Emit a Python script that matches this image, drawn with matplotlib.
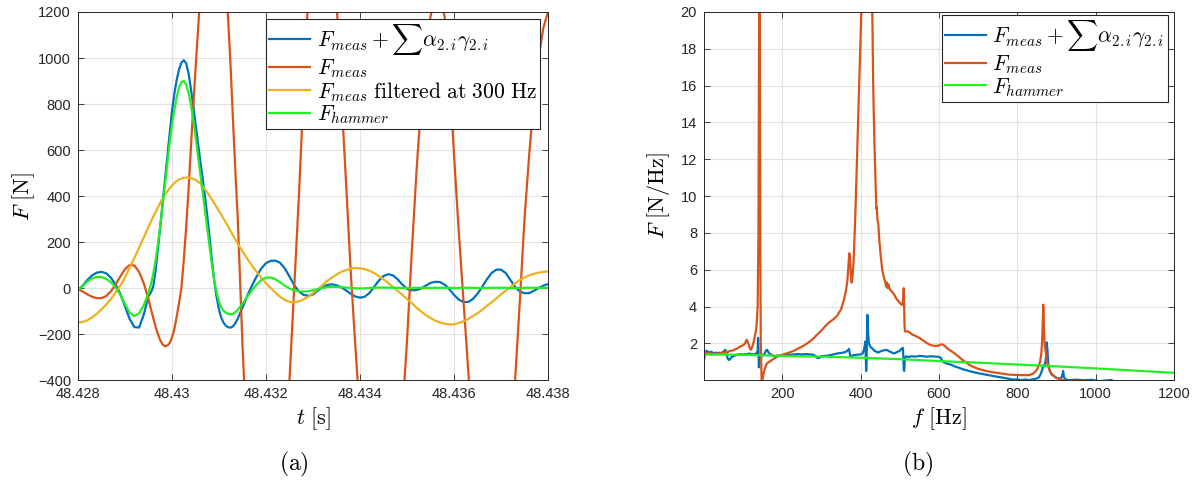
import numpy as np
import matplotlib
matplotlib.use('Agg')
import matplotlib.pyplot as plt

plt.rcParams['mathtext.fontset'] = 'cm'
plt.rcParams['font.family'] = ['Liberation Sans', 'DejaVu Sans']

# ---- (a) time signals: 0.1 ms steps, 0.05 ms around the impact ----
t_ms = np.round(np.r_[np.linspace(0, 1.4, 15), np.linspace(1.5, 3.4, 39), np.linspace(3.5, 10, 66)], 3)
t = 48.428 + t_ms * 1e-3

f_corr = [-10, 10, 35, 55, 67, 70, 64, 45, 15, -25, -80, -135, -170, -172, -115,
          # 1.5 .. 3.4 ms
          -35, -20, 5, 75, 170, 265, 370, 470, 570, 670,
          770, 845, 905, 950, 980, 990, 978, 935, 870, 795,
          715, 635, 555, 480, 400, 315, 220, 120, 30, -40,
          -95, -130, -152, -165, -171, -172, -166, -152, -133,
          # 3.5 .. 10 ms
          -85, -35, 10, 50, 85, 108, 118, 119, 110, 85,
          50, 12, -15, -30, -34, -28, -12, 3, 13, 16,
          12, 3, -10, -25, -37, -42, -38, -22, 5, 32,
          52, 60, 55, 38, 15, -3, -10, -9, -2, 10,
          22, 27, 26, 15, -5, -30, -50, -61, -61, -48,
          -25, 5, 38, 65, 80, 80, 65, 35, 5, -15,
          -23, -22, -12, 0, 10, 17]

f_meas = [-5, -15, -28, -38, -44, -44, -35, -15, 15, 50, 82, 100, 98, 70, 20,
          -50, -90, -130, -168, -200, -228, -245, -253, -250, -240,
          -215, -178, -125, -65, 0, 120, 260, 420, 600, 780,
          950, 1110, 1270, 1400, 1520, 1610, 1680, 1720, 1730, 1700,
          1650, 1560, 1450, 1310, 1150, 950, 720, 500, 300,
          -250, -700, -1000, -1300, -1500, -1600, -1580, -1430, -1180, -850,
          -400, 0, 400, 850, 1280, 1600, 1800, 1850, 1750, 1550,
          1250, 850, 470, 80, -250, -560, -850, -1100, -1300, -1420,
          -1450, -1380, -1150, -850, -550, -230, 150, 500, 800, 1030,
          1180, 1270, 1280, 1180, 950, 580, 250, -50, -350, -650,
          -900, -1100, -1220, -1250, -1200, -1050, -850, -620, -400, -60,
          300, 580, 820, 1000, 1130, 1200]

f_filt = [-150, -148, -140, -128, -112, -93, -72, -48, -20, 10, 45, 90, 130, 175, 220,
          265, 288, 310, 330, 350, 370, 390, 405, 420, 433,
          445, 456, 465, 471, 476, 479, 480, 480, 478, 475,
          470, 463, 455, 443, 430, 416, 400, 384, 368, 352,
          335, 318, 300, 283, 265, 246, 228, 210, 192,
          160, 128, 98, 70, 44, 20, 0, -20, -38, -52,
          -60, -62, -58, -50, -38, -22, -6, 12, 30, 45,
          58, 70, 78, 84, 87, 86, 82, 75, 65, 52,
          38, 22, 5, -12, -30, -48, -65, -85, -102, -118,
          -130, -142, -150, -155, -158, -158, -152, -145, -135, -122,
          -110, -95, -78, -62, -45, -28, -12, 4, 20, 35,
          45, 55, 62, 67, 70, 72]

f_hammer = [-10, 8, 28, 42, 48, 48, 40, 25, 2, -30, -70, -108, -122, -110, -75,
            -20, 15, 60, 120, 190, 270, 360, 450, 540, 630,
            710, 775, 830, 872, 895, 900, 885, 850, 800, 735,
            660, 580, 500, 420, 340, 260, 180, 100, 30, -20,
            -60, -85, -100, -108, -113, -114, -112, -105, -95,
            -68, -38, -10, 15, 35, 45, 46, 38, 25, 10,
            -2, -10, -14, -15, -14, -10, -5, 0, 4, 5,
            5, 4, 2, 0, -1, -2, -1, 0, 1, 2,
            2, 2, 1, 1, 0, 0, 1, 1, 1, 0,
            0, 1, 1, 1, 1, 0, 0, 1, 1, 1,
            0, 0, 0, 1, 1, 1, 1, 0, 0, 0,
            1, 1, 1, 1, 1, 1]

# ---- (b) spectra ----
fr_meas = [0, 5, 10, 15, 20, 25, 30, 35, 40, 45, 50, 55, 60, 65, 70, 75, 80, 85, 90, 95,
           100, 105, 109, 113, 116, 119, 123, 127, 131, 134, 137, 139, 140, 141, 142, 143, 144, 145, 147, 149,
           152, 155, 160, 170, 186, 200, 210, 220, 230, 240, 250, 260, 270, 280, 290, 300, 310, 320, 330, 340,
           350, 357, 362, 366, 369, 371, 373, 375, 377, 379, 382, 386, 391, 396, 401, 405, 410, 415, 420, 425,
           428, 430, 432, 435, 437, 439, 440, 441, 443, 445, 448, 451, 455, 459, 462, 465, 467, 469, 471, 473,
           476, 480, 484, 488, 492, 496, 500, 504, 507, 509, 510, 511, 512, 513, 516, 520, 525, 530, 540, 550,
           560, 570, 580, 590, 600, 605, 610, 615, 620, 630, 640, 650, 660, 670, 680, 690, 700, 720, 740, 760,
           780, 800, 820, 830, 840, 845, 850, 855, 858, 861, 863, 865, 866, 867, 868, 870, 872, 875, 878, 882,
           886, 890, 895, 900, 905, 910, 915, 920]
amp_meas = [1.35, 1.50, 1.42, 1.48, 1.38, 1.45, 1.40, 1.47, 1.42, 1.50, 1.48, 1.55, 1.52, 1.58, 1.60, 1.62, 1.68, 1.72, 1.80, 1.85,
            1.90, 2.00, 2.20, 2.00, 1.80, 1.65, 1.80, 2.10, 2.50, 2.90, 4.00, 8.0, 15.0, 22.0, 22.0, 14.0, 6.0, 2.0, 0.05, 0.02,
            0.35, 0.60, 0.90, 1.05, 1.27, 1.38, 1.45, 1.52, 1.60, 1.72, 1.82, 1.95, 2.10, 2.28, 2.50, 2.70, 2.95, 3.15, 3.30, 3.50,
            3.85, 4.35, 4.80, 5.40, 6.30, 6.90, 6.50, 5.70, 5.30, 5.60, 6.50, 8.70, 12.3, 15.9, 19.5, 25.0, 35.0, 45.0, 40.0, 30.0,
            22.0, 19.5, 16.0, 13.0, 11.5, 10.1, 9.3, 9.4, 8.7, 8.5, 7.5, 6.8, 6.0, 5.6, 5.4, 5.1, 5.3, 5.0, 5.2, 5.0,
            4.9, 4.8, 4.7, 4.55, 4.4, 4.3, 4.2, 4.1, 4.1, 4.6, 5.0, 4.0, 3.0, 2.65, 2.65, 2.65, 2.6, 2.5, 2.4, 2.3,
            2.15, 2.0, 1.9, 1.86, 1.88, 1.95, 1.93, 1.85, 1.75, 1.6, 1.45, 1.28, 1.1, 0.95, 0.8, 0.7, 0.62, 0.5, 0.42, 0.36,
            0.30, 0.28, 0.27, 0.28, 0.35, 0.45, 0.58, 0.80, 1.0, 1.4, 2.0, 3.2, 4.1, 3.8, 2.8, 1.9, 1.6, 1.1, 0.8, 0.55,
            0.40, 0.30, 0.20, 0.12, 0.08, 0.05, 0.02, 0.0]

fr_corr = [0, 3, 6, 10, 14, 18, 22, 26, 30, 34, 38, 42, 46, 50, 54, 57, 60, 63, 66, 70,
           75, 80, 85, 90, 95, 100, 105, 110, 115, 120, 125, 130, 134, 137, 138, 139, 140, 141, 143, 146,
           150, 155, 158, 161, 165, 170, 175, 180, 190, 200, 210, 220, 230, 240, 250, 260, 270, 280, 285, 290,
           295, 300, 310, 320, 330, 340, 350, 360, 365, 368, 370, 372, 374, 377, 380, 390, 400, 405, 409, 412,
           414, 415, 417, 419, 421, 425, 430, 435, 440, 445, 449, 455, 460, 466, 470, 475, 480, 485, 490, 495,
           500, 505, 508, 510, 511, 513, 516, 520, 530, 540, 550, 560, 570, 580, 590, 600, 605, 610, 620, 630,
           640, 650, 660, 680, 700, 720, 740, 760, 780, 790, 800, 810, 820, 830, 840, 850, 855, 860, 864, 866,
           870, 873, 875, 877, 879, 883, 888, 895, 900, 905, 910, 914, 917, 919, 925, 935, 950, 970, 990, 1010,
           1040, 1050]
amp_corr = [1.10, 1.50, 1.60, 1.55, 1.50, 1.55, 1.50, 1.45, 1.50, 1.45, 1.50, 1.45, 1.50, 1.55, 1.65, 1.55, 1.20, 1.10, 1.12, 1.25,
            1.30, 1.35, 1.38, 1.40, 1.42, 1.38, 1.42, 1.40, 1.45, 1.42, 1.40, 1.42, 1.45, 1.60, 2.30, 1.80, 0.70, 0.90, 1.20, 1.30,
            1.35, 1.45, 1.60, 1.65, 1.50, 1.40, 1.35, 1.30, 1.33, 1.35, 1.36, 1.38, 1.40, 1.42, 1.40, 1.42, 1.40, 1.38, 1.30, 1.20,
            1.22, 1.30, 1.32, 1.35, 1.40, 1.45, 1.48, 1.52, 1.58, 1.65, 1.70, 1.50, 1.25, 1.30, 1.35, 1.38, 1.40, 1.45, 1.70, 2.10,
            0.50, 0.90, 3.55, 2.60, 2.00, 1.80, 1.72, 1.60, 1.55, 1.50, 1.55, 1.60, 1.62, 1.65, 1.60, 1.55, 1.50, 1.45, 1.50, 1.55,
            1.60, 1.72, 1.75, 0.60, 0.50, 1.20, 1.30, 1.25, 1.30, 1.28, 1.32, 1.30, 1.28, 1.30, 1.28, 1.27, 1.20, 1.00, 0.90, 0.85,
            0.75, 0.68, 0.60, 0.48, 0.38, 0.30, 0.22, 0.15, 0.07, 0.03, 0.05, 0.00, 0.04, 0.00, 0.05, 0.10, 0.15, 0.35, 0.60, 0.80,
            0.75, 1.20, 2.05, 1.60, 0.90, 0.50, 0.30, 0.20, 0.12, 0.10, 0.08, 0.20, 0.50, 0.15, 0.02, 0.00, 0.03, 0.00, 0.02, -0.05,
            0.01, -0.10]

fr_hammer = [0, 100, 200, 300, 400, 500, 600, 700, 800, 900, 1000, 1100, 1200]
amp_hammer = [1.40, 1.38, 1.32, 1.28, 1.22, 1.14, 1.04, 0.95, 0.85, 0.75, 0.64, 0.52, 0.40]

c_blue, c_orange, c_yellow, c_green = '#0072BD', '#D95319', '#EDB120', '#22EE22'

fig = plt.figure(figsize=(12.01, 4.84), dpi=100)
ax1 = fig.add_axes([78/1201, 104/484, 470/1201, 368/484])
ax2 = fig.add_axes([704/1201, 104/484, 470/1201, 368/484])

lw = 1.6
ax1.plot(t, f_corr, color=c_blue, lw=lw, label=r'$F_{meas}+\sum\alpha_{2.i}\gamma_{2.i}$')
ax1.plot(t, f_meas, color=c_orange, lw=lw, label=r'$F_{meas}$')
ax1.plot(t, f_filt, color=c_yellow, lw=lw, label=r'$F_{meas}\ \mathrm{filtered\ at\ 300\ Hz}$')
ax1.plot(t, f_hammer, color=c_green, lw=lw, label=r'$F_{hammer}$')

ax2.plot(fr_corr, amp_corr, color=c_blue, lw=lw, label=r'$F_{meas}+\sum\alpha_{2.i}\gamma_{2.i}$')
ax2.plot(fr_meas, amp_meas, color=c_orange, lw=lw, label=r'$F_{meas}$')
ax2.plot(fr_hammer, amp_hammer, color=c_green, lw=lw, label=r'$F_{hammer}$')

ax1.set_xlim(48.428, 48.438)
ax1.set_ylim(-400, 1200)
ax1.set_xticks([48.428, 48.430, 48.432, 48.434, 48.436, 48.438])
ax1.set_xticklabels(['48.428', '48.43', '48.432', '48.434', '48.436', '48.438'])
ax1.set_yticks(np.arange(-400, 1201, 200))

ax2.set_xlim(0, 1200)
ax2.set_ylim(0.01, 20)
ax2.set_xticks([200, 400, 600, 800, 1000, 1200])
ax2.set_yticks(np.arange(2, 21, 2))

ax1.set_xlabel(r'$t\ [\mathrm{s}]$', fontsize=16, labelpad=3)
ax1.set_ylabel(r'$F\ [\mathrm{N}]$', fontsize=16, labelpad=1)
ax2.set_xlabel(r'$f\ [\mathrm{Hz}]$', fontsize=16, labelpad=3)
ax2.set_ylabel(r'$F\ [\mathrm{N/Hz}]$', fontsize=16, labelpad=6)

for ax in (ax1, ax2):
    ax.grid(True, color='#e2e2e2', lw=0.8)
    ax.set_axisbelow(True)
    ax.tick_params(direction='in', top=True, right=True, length=4, width=0.6,
                   colors='#262626', labelsize=10.5, pad=5)
    for s in ax.spines.values():
        s.set_color('#262626')
        s.set_linewidth(0.7)

leg_kw = dict(loc='upper right', borderaxespad=0, fontsize=15.5, fancybox=False,
              edgecolor='#262626', framealpha=1, handlelength=1.9, handletextpad=0.3,
              labelspacing=0.0, borderpad=0.15)
leg1 = ax1.legend(bbox_to_anchor=(1 - 8/470, 1 - 7/368), **leg_kw)
leg2 = ax2.legend(bbox_to_anchor=(1 - 6/470, 1 - 3/368), **leg_kw)
for leg in (leg1, leg2):
    leg.get_frame().set_linewidth(0.8)

fig.text(294/1201, 1 - 464/484, r'$(\mathrm{a})$', fontsize=17, ha='center', va='center')
fig.text(918/1201, 1 - 464/484, r'$(\mathrm{b})$', fontsize=17, ha='center', va='center')

fig.savefig('out.png', dpi=100)
